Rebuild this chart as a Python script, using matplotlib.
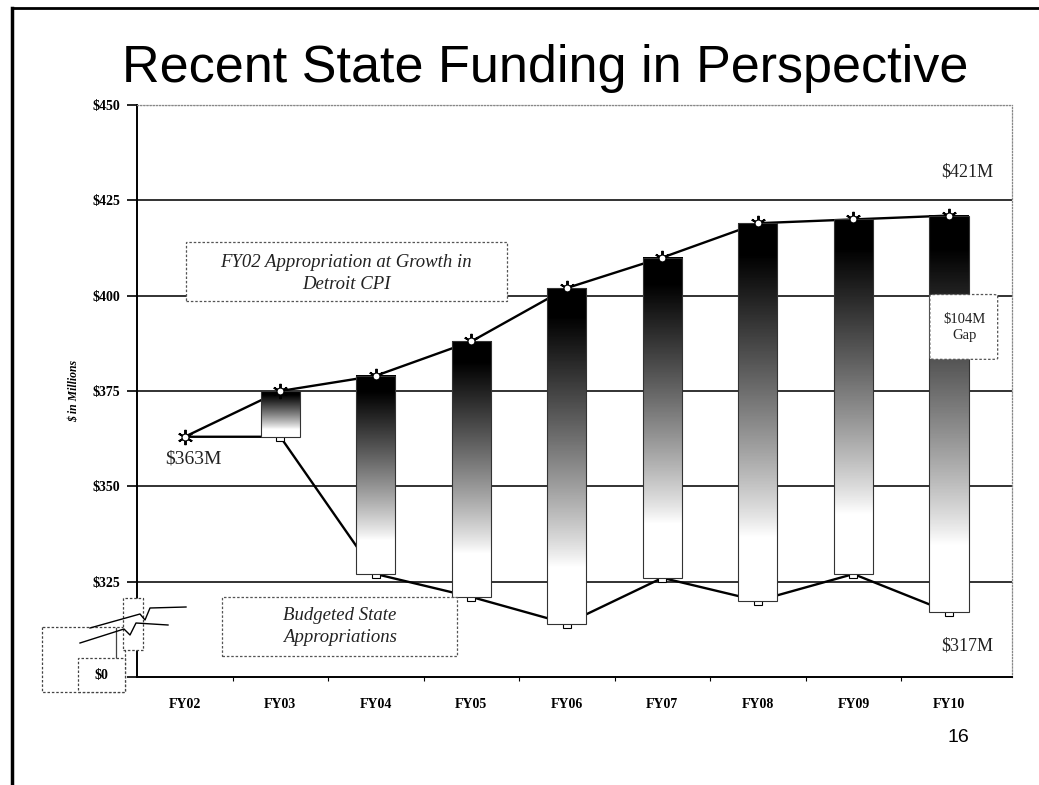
import numpy as np
import matplotlib.pyplot as plt
from matplotlib.patches import Rectangle, FancyBboxPatch
from matplotlib.lines import Line2D

# data ($ in millions)
years = ['FY02', 'FY03', 'FY04', 'FY05', 'FY06', 'FY07', 'FY08', 'FY09', 'FY10']
cpi_growth = [363, 375, 379, 388, 402, 410, 419, 420, 421]
budgeted = [363, 363, 327, 321, 314, 326, 320, 327, 317]
y_ticks = [300, 325, 350, 375, 400, 425, 450]
y_tick_labels = ['$0', '$325', '$350', '$375', '$400', '$425', '$450']

W, H = 1039, 785
fig = plt.figure(figsize=(W / 100, H / 100), dpi=100)
ax = fig.add_axes([137 / W, 1 - 677 / H, (1012 - 137) / W, (677 - 105) / H])

serif = 'Liberation Serif'
x = np.arange(len(years))
dashed = (0, (2, 1.5))

# gridlines
for v in y_ticks[1:-1]:
    ax.axhline(v, color='#222222', lw=1.3, zorder=1)
ax.axhline(450, color='#888888', lw=0.9, ls=(0, (1, 1.5)), zorder=1)

# lines + markers
ax.plot(x, cpi_growth, color='black', lw=1.7, zorder=2)
ax.plot(x, budgeted, color='black', lw=1.7, zorder=2)
ax.plot(x[1:], budgeted[1:], ls='none', marker='s', ms=6, mfc='white',
        mec='black', mew=0.8, zorder=2.5)

# gradient bars spanning the gap: black on top fading to white
t = np.linspace(0, 1, 256)
grad = np.clip(1 - (t - 0.08) / 0.75, 0, 1) ** 0.85
grad = grad[:, None]
bw = 0.41
for i in range(1, len(years)):
    lo, hi = budgeted[i], cpi_growth[i]
    ax.imshow(grad, cmap='gray_r', vmin=0, vmax=1, aspect='auto',
              extent=(i - bw / 2, i + bw / 2, lo, hi), origin='upper',
              zorder=3, interpolation='bilinear')
    ax.add_patch(Rectangle((i - bw / 2, lo), bw, hi - lo, fill=False,
                           ec='#333333', lw=0.8, zorder=3.2))

ax.plot(x, cpi_growth, ls='none', marker=(6, 2, 0), ms=11, mec='black',
        mew=1.4, zorder=4)
ax.plot(x, cpi_growth, ls='none', marker='o', ms=5, mfc='white',
        mec='black', mew=0.8, zorder=4.1)

ax.set_xlim(-0.5, 8.66)
ax.set_ylim(300, 450)

# axes styling
for s in ['top', 'right']:
    ax.spines[s].set_color('#888888')
    ax.spines[s].set_linestyle((0, (1, 1.5)))
    ax.spines[s].set_linewidth(0.9)
ax.spines['left'].set_linewidth(1.4)
ax.spines['bottom'].set_linewidth(1.4)

ax.set_yticks(y_ticks)
ax.set_yticklabels(y_tick_labels, fontfamily=serif, fontweight='bold',
                   fontsize=10)
ax.set_xticks(x)
ax.set_xticklabels(years, fontfamily=serif, fontweight='bold', fontsize=10)
ax.tick_params(axis='y', length=7, width=1.2, pad=5)
ax.tick_params(axis='x', length=0, pad=15)
ax.set_xticks(x[:-1] + 0.5, minor=True)
ax.tick_params(axis='x', which='minor', length=3, width=0.8)

ax.set_ylabel('$ in Millions', fontfamily=serif, fontstyle='italic',
              fontweight='bold', fontsize=8.5, labelpad=9)

# annotation boxes
ax.add_patch(Rectangle((0.01, 398.5), 3.36, 15.7, fc='white', ec='#555555',
                       lw=0.9, ls=dashed, zorder=5))
ax.text(1.69, 405.8, 'FY02 Appropriation at Growth in\nDetroit CPI',
        ha='center', va='center', fontfamily=serif, fontstyle='italic',
        fontsize=13.5, color='#222222', linespacing=1.35, zorder=6)
ax.add_patch(Rectangle((0.39, 305.4), 2.46, 15.7, fc='white', ec='#555555',
                       lw=0.9, ls=dashed, zorder=5))
ax.text(1.62, 313.2, 'Budgeted State\nAppropriations', ha='center',
        va='center', fontfamily=serif, fontstyle='italic', fontsize=13.5,
        color='#222222', linespacing=1.4, zorder=6)
ax.add_patch(FancyBboxPatch((7.80, 383.3), 0.71, 17.0,
                            boxstyle='round,pad=0,rounding_size=0.06',
                            mutation_aspect=4, fc='white', ec='#555555',
                            lw=0.9, ls=dashed, zorder=5))
ax.text(8.16, 391.6, '$104M\nGap', ha='center', va='center',
        fontfamily=serif, fontsize=10.5, color='#222222', linespacing=1.25,
        zorder=6)
ax.text(0.09, 357.2, '$%dM' % cpi_growth[0], ha='center', va='center',
        fontfamily=serif, fontsize=14, color='#222222')
ax.text(8.19, 432.5, '$%dM' % cpi_growth[-1], ha='center', va='center',
        fontfamily=serif, fontsize=13, color='#222222')
ax.text(8.19, 308, '$%dM' % budgeted[-1], ha='center', va='center',
        fontfamily=serif, fontsize=13, color='#222222')

# title, page number, slide border
fig.text(545 / W, 1 - 82 / H, 'Recent State Funding in Perspective',
         ha='center', va='baseline', fontfamily='Liberation Sans',
         fontsize=37.5, color='black')
fig.text(958 / W, 1 - 737 / H, '16', ha='center', va='center',
         fontfamily='Liberation Sans', fontsize=14)


def px(xs, ys):
    return [v / W for v in xs], [1 - v / H for v in ys]


fig.add_artist(Line2D(*px([12, 12], [8, 785]), color='black', lw=2.5))
fig.add_artist(Line2D(*px([12, 1039], [8, 8]), color='black', lw=2))

# axis break symbol
dash = dict(color='#444444', lw=0.9, ls=dashed)
fig.add_artist(Rectangle((123 / W, 1 - 650 / H), 20 / W, 52 / H,
                         transform=fig.transFigure, fc='white', ec='#444444',
                         lw=0.9, ls=dashed, zorder=5))
fig.add_artist(Line2D(*px([42, 42, 125, 125, 42], [627, 692, 692, 627, 627]),
                      **dash))
fig.add_artist(Rectangle((78 / W, 1 - 692 / H), 47 / W, 34 / H,
                         transform=fig.transFigure, fc='white', ec='#444444',
                         lw=0.9, ls=dashed, zorder=5))
fig.add_artist(Line2D(*px([116, 116], [628, 658]), color='#444444', lw=0.9))
fig.add_artist(Line2D(*px([90, 140, 145, 150, 186], [628, 614, 620, 608, 607]),
                      color='black', lw=1.0, zorder=6))
fig.add_artist(Line2D(*px([80, 124, 130, 136, 168], [643, 629, 635, 623, 625]),
                      color='black', lw=1.0, zorder=6))
fig.text(101 / W, 1 - 676 / H, '$0', ha='center', va='center',
         fontfamily=serif, fontweight='bold', fontsize=10, zorder=7)
ax.get_yticklabels()[0].set_visible(False)

fig.savefig('out.png', dpi=100)
